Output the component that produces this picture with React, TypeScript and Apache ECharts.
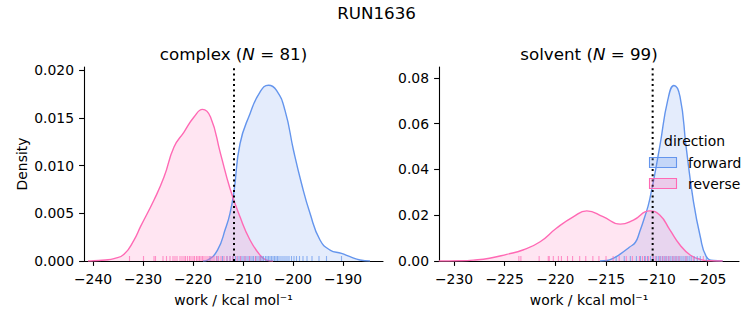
import React, { useEffect, useRef } from "react";
import * as echarts from "echarts";

// ---- data ----
const suptitle = "RUN1636";
const legendTitle = "direction";
const directions = ["forward", "reverse"];

// complex panel KDE (x: work, y: density)
const complexFwdX = [-218, -217.1, -215.1, -213.5, -212.6, -211.8, -210.6, -208.6, -206.6, -204.9, -203.3, -201.6, -199.9, -198.3, -196.6, -194.6, -192.6, -190.3, -188.6, -186.6, -184.6];
const complexFwdY = [0, 0.0001, 0.00115, 0.0034, 0.005, 0.0073, 0.0123, 0.01545, 0.01772, 0.01843, 0.0179, 0.0158, 0.01162, 0.00813, 0.005, 0.0022, 0.00115, 0.0008, 0.00045, 0.0001, 0];
const complexRevX = [-241, -239.8, -237.5, -235.8, -233.8, -231.8, -230.5, -227.8, -225.8, -223.8, -221.8, -219.8, -218.1, -216.5, -214.5, -212.6, -210.6, -208.6, -206.6, -205.3, -204];
const complexRevY = [0, 0.00003, 0.0001, 0.00025, 0.0007, 0.0022, 0.0036, 0.0064, 0.0088, 0.01196, 0.01353, 0.0151, 0.0159, 0.0151, 0.01127, 0.0076, 0.00463, 0.0022, 0.00062, 0.0001, 0];

// solvent panel KDE
const solventFwdX = [-215.6, -214.9, -214.2, -213.6, -212.7, -212.1, -211.7, -211.2, -210.7, -209.7, -208.9, -208.3, -207.7, -207.1, -206.4, -205.7, -205.1, -204.4, -203.5];
const solventFwdY = [0, 0.0002, 0.0014, 0.003, 0.006, 0.0082, 0.0125, 0.019, 0.0267, 0.05, 0.0705, 0.0767, 0.0719, 0.05, 0.0267, 0.0106, 0.0019, 0.0002, 0];
const solventRevX = [-231.5, -229.5, -228.1, -226.5, -224.8, -223.2, -221.5, -219.9, -218.2, -216.9, -215.3, -213.6, -212.3, -210.7, -209.7, -208.7, -207.7, -206.7, -205.7, -204.7, -203.5];
const solventRevY = [0, 0.0001, 0.0004, 0.0012, 0.0029, 0.0048, 0.0084, 0.0143, 0.0194, 0.0219, 0.0194, 0.0161, 0.0179, 0.0219, 0.0201, 0.0136, 0.007, 0.0026, 0.0007, 0.0001, 0];

// rug samples
const complexFwdRug = [-216.6, -215.2, -214.1, -213.2, -212.6, -212.0, -211.5, -211.0, -210.6, -210.2, -209.8, -209.4, -209.0, -208.6, -208.2, -207.9, -207.5, -207.2, -206.8, -206.5, -206.2, -205.9, -205.5, -205.2, -204.9, -204.6, -204.3, -204.0, -203.7, -203.4, -203.1, -202.8, -202.4, -202.0, -201.6, -201.2, -200.8, -200.3, -199.8, -199.3, -198.7, -198.0, -197.2, -196.2, -194.8, -193.3, -190.3];
const complexRevRug = [-232.7, -229.9, -227.8, -227.5, -226.0, -225.3, -224.6, -224.0, -223.6, -223.2, -222.6, -222.2, -221.8, -221.5, -221.1, -220.7, -220.4, -220.0, -219.7, -219.3, -219.0, -218.7, -218.4, -218.1, -217.8, -217.4, -217.0, -216.6, -216.2, -215.8, -215.3, -214.9, -214.4, -213.8, -213.2, -212.6, -212.0, -211.2, -210.5, -209.6, -208.7, -207.5, -206.6];
const solventFwdRug = [-214.0, -213.2, -212.6, -212.0, -211.6, -211.2, -210.9, -210.6, -210.3, -210.0, -209.8, -209.6, -209.4, -209.2, -209.0, -208.8, -208.6, -208.4, -208.2, -208.0, -207.8, -207.6, -207.4, -207.2, -207.0, -206.8, -206.6, -206.3, -206.0, -205.7, -205.1];
const solventRevRug = [-223.6, -223.4, -221.6, -220.7, -220.6, -220.2, -219.7, -219.4, -218.8, -218.3, -217.6, -217.0, -216.3, -215.7, -215.0, -214.3, -213.7, -213.0, -212.4, -211.7, -211.4, -211.1, -210.8, -210.4, -210.1, -209.7, -209.4, -209.1, -208.8, -208.4, -208.1, -207.8, -207.1, -206.4, -205.4];

// dotted reference lines
const complexRefX = -211.8;
const solventRefX = -210.4;

// axes
const complexXTicks = [-240, -230, -220, -210, -200, -190];
const solventXTicks = [-230, -225, -220, -215, -210, -205];
const complexYTicks = [0, 0.005, 0.01, 0.015, 0.02];
const solventYTicks = [0, 0.02, 0.04, 0.06, 0.08];
const complexXRange = [-241.8, -182];
const solventXRange = [-231.48, -201.88];
const complexYMax = 0.02035;
const solventYMax = 0.0848;

const panelTitles = [
  { name: "complex", n: 81 },
  { name: "solvent", n: 99 },
];

const FWD = "#6495ED";
const REV = "#FF69B4";
const FWD_FILL = "rgba(100,149,237,0.25)";
const REV_FILL = "rgba(255,105,180,0.25)";
const FONT = "DejaVu Sans";

const zip = (xs: number[], ys: number[]) => xs.map((x, i) => [x, ys[i]]);
const minus = (v: number) => (v < 0 ? "\u2212" + Math.abs(v) : String(v));

export default function App() {
  const ref = useRef<HTMLDivElement>(null);
  useEffect(() => {
    if (!ref.current) return;
    const chart = echarts.init(ref.current, undefined, { renderer: "svg" });

    const xAxisBase = (idx: number, range: number[], ticks: number[]) => ({
      type: "value",
      gridIndex: idx,
      min: range[0],
      max: range[1],
      name: "work / kcal mol\u207B\u00B9",
      nameLocation: "middle",
      nameGap: 32,
      nameTextStyle: { fontFamily: FONT, fontSize: 13.9, color: "#000" },
      axisLine: { show: true, onZero: false, lineStyle: { color: "#000", width: 1.1 } },
      axisTick: { show: true, length: 4.9, lineStyle: { color: "#000", width: 1.1 }, customValues: ticks },
      axisLabel: { fontFamily: FONT, fontSize: 13.9, color: "#000", margin: 11, customValues: ticks, formatter: (v: number) => minus(v), showMinLabel: true, showMaxLabel: true },
      splitLine: { show: false },
    });
    const yAxisBase = (idx: number, max: number, ticks: number[], dec: number, name: string) => ({
      type: "value",
      gridIndex: idx,
      min: 0,
      max,
      name,
      nameLocation: "middle",
      nameGap: 55,
      nameRotate: 90,
      nameTextStyle: { fontFamily: FONT, fontSize: 13.9, color: "#000" },
      axisLine: { show: true, lineStyle: { color: "#000", width: 1.1 } },
      axisTick: { show: true, length: 4.9, lineStyle: { color: "#000", width: 1.1 }, customValues: ticks },
      axisLabel: { fontFamily: FONT, fontSize: 13.9, color: "#000", margin: 10, customValues: ticks, formatter: (v: number) => v.toFixed(dec) },
      splitLine: { show: false },
    });

    const kde = (idx: number, data: number[][], color: string, fill: string, name: string) => ({
      type: "line",
      name,
      xAxisIndex: idx,
      yAxisIndex: idx,
      data,
      smooth: 0.5,
      showSymbol: false,
      symbol: "none",
      lineStyle: { color, width: 1.4 },
      areaStyle: { color: fill, origin: "start" },
      silent: true,
    });
    const rug = (idx: number, vals: number[], color: string) => ({
      type: "scatter",
      xAxisIndex: idx,
      yAxisIndex: idx,
      data: vals.map((v) => [v, 0]),
      symbol: "rect",
      symbolSize: [1.1, 5],
      symbolOffset: [0, -2.5],
      itemStyle: { color, opacity: 0.7 },
      silent: true,
      z: 3,
    });
    const refLine = (idx: number, x: number, ymax: number) => ({
      type: "line",
      xAxisIndex: idx,
      yAxisIndex: idx,
      data: [[x, 0], [x, ymax]],
      showSymbol: false,
      symbol: "none",
      lineStyle: { color: "#000", width: 2, type: [2, 3.3] },
      silent: true,
      z: 5,
    });

    const titleText = (cx: number, t: { name: string; n: number }) => ({
      type: "text",
      x: cx,
      y: 54,
      style: {
        text: `{a|${t.name} (}{i|N}{a| = ${t.n})}`,
        align: "center",
        verticalAlign: "middle",
        rich: {
          a: { fontFamily: FONT, fontSize: 16.7, fill: "#000" },
          i: { fontFamily: FONT, fontSize: 16.7, fontStyle: "italic", fill: "#000" },
        },
      },
    });

    const legendRows = directions.map((d, i) => [
      {
        type: "rect",
        shape: { x: 649.5, y: 157.5 + i * 21, width: 27, height: 10 },
        style: { fill: i === 0 ? FWD_FILL : REV_FILL, stroke: i === 0 ? FWD : REV, lineWidth: 1.1 },
        z: 100,
      },
      {
        type: "text",
        x: 688,
        y: 162.5 + i * 21,
        style: { text: d, fontFamily: FONT, fontSize: 13.9, fill: "#000", align: "left", verticalAlign: "middle" },
        z: 100,
      },
    ]).flat();

    chart.setOption({
      animation: false,
      backgroundColor: "#fff",
      grid: [
        { left: 84, right: 753 - 383, top: 67, bottom: 325 - 261, containLabel: false, outerBoundsMode: "none" },
        { left: 439, right: 753 - 739, top: 67, bottom: 325 - 261, containLabel: false, outerBoundsMode: "none" },
      ],
      xAxis: [xAxisBase(0, complexXRange, complexXTicks), xAxisBase(1, solventXRange, solventXTicks)],
      yAxis: [yAxisBase(0, complexYMax, complexYTicks, 3, "Density"), yAxisBase(1, solventYMax, solventYTicks, 2, "")],
      series: [
        kde(0, zip(complexFwdX, complexFwdY), FWD, FWD_FILL, "forward"),
        kde(0, zip(complexRevX, complexRevY), REV, REV_FILL, "reverse"),
        rug(0, complexFwdRug, FWD),
        rug(0, complexRevRug, REV),
        refLine(0, complexRefX, complexYMax),
        kde(1, zip(solventFwdX, solventFwdY), FWD, FWD_FILL, "forward"),
        kde(1, zip(solventRevX, solventRevY), REV, REV_FILL, "reverse"),
        rug(1, solventFwdRug, FWD),
        rug(1, solventRevRug, REV),
        refLine(1, solventRefX, solventYMax),
      ],
      graphic: [
        {
          type: "text",
          x: 376.5,
          y: 13,
          style: { text: suptitle, fontFamily: FONT, fontSize: 16.7, fill: "#000", align: "center", verticalAlign: "middle" },
        },
        titleText(233.5, panelTitles[0]),
        titleText(589, panelTitles[1]),
        {
          type: "text",
          x: 694.5,
          y: 141,
          style: { text: legendTitle, fontFamily: FONT, fontSize: 13.9, fill: "#000", align: "center", verticalAlign: "middle" },
          z: 100,
        },
        ...legendRows,
      ],
    });
    return () => chart.dispose();
  }, []);
  return <div ref={ref} style={{ position: "fixed", left: 0, top: 0, width: 753, height: 325 }} />;
}
